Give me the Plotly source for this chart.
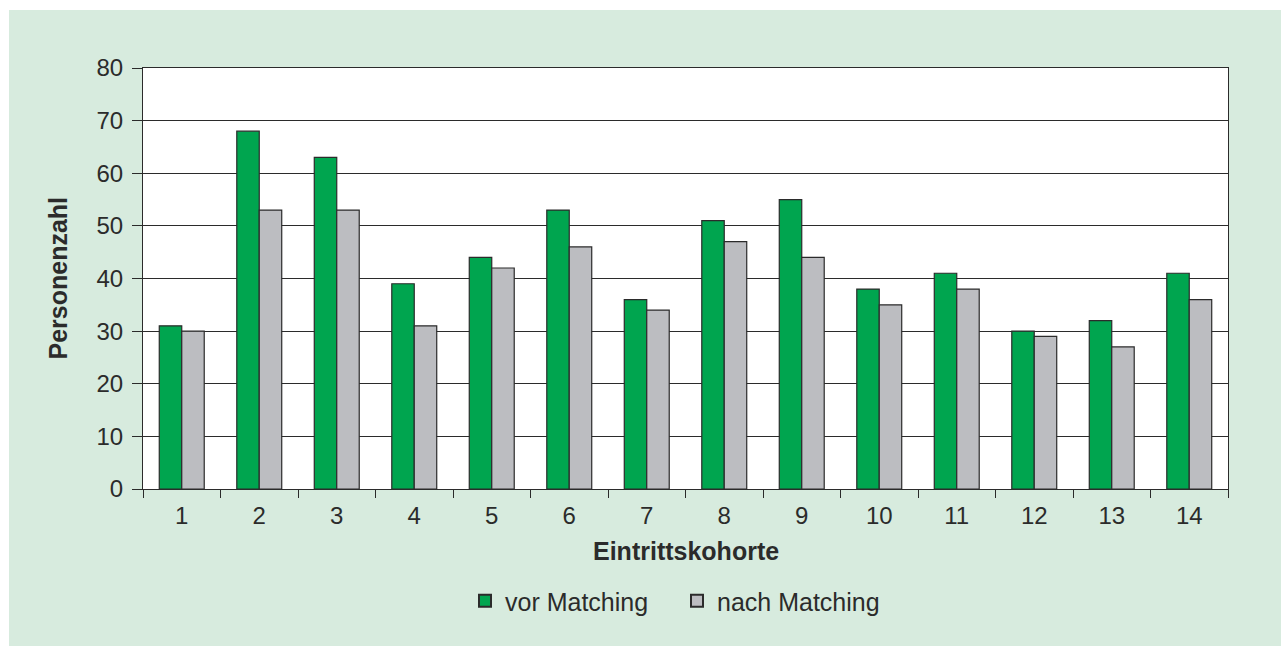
import plotly.graph_objects as go

categories = ["1", "2", "3", "4", "5", "6", "7", "8", "9", "10", "11", "12", "13", "14"]
vor_matching = [31, 68, 63, 39, 44, 53, 36, 51, 55, 38, 41, 30, 32, 41]
nach_matching = [30, 53, 53, 31, 42, 46, 34, 47, 44, 35, 38, 29, 27, 36]
y_ticks = [0, 10, 20, 30, 40, 50, 60, 70, 80]

W, H = 1281, 646
L, R, T, B = 143, 1228, 68, 489  # screen coords of plot area
pw, ph = R - L, B - T
BG = "#d7ebde"

def px(x):
    return (x - L) / pw

def py(y):
    return (B - y) / ph

font = "Liberation Sans, Arial, Helvetica, sans-serif"
txt = "#2b2b2b"

fig = go.Figure()
fig.add_trace(go.Bar(x=categories, y=vor_matching, name="vor Matching", legend="legend",
                     marker=dict(color="#00a54f", line=dict(color="#2b2b2b", width=1.2))))
fig.add_trace(go.Bar(x=categories, y=nach_matching, name="nach Matching", legend="legend2",
                     marker=dict(color="#bcbdc1", line=dict(color="#2b2b2b", width=1.2))))

leg_common = dict(orientation="h", yanchor="middle", y=py(601), xanchor="left",
                  font=dict(size=25, color=txt), bgcolor="rgba(0,0,0,0)",
                  itemsizing="constant", itemwidth=30, borderwidth=0)

fig.update_layout(
    width=W, height=H,
    margin=dict(l=L, r=W - R, t=T, b=H - B, pad=0),
    paper_bgcolor=BG,
    plot_bgcolor="white",
    barmode="group", bargap=0.42, bargroupgap=0,
    font=dict(family=font, size=24, color=txt),
    showlegend=True,
    legend=dict(x=px(465), **leg_common),
    legend2=dict(x=px(677), **leg_common),
    xaxis=dict(type="category", tickson="boundaries", ticks="outside", ticklen=8,
               ticklabelstandoff=5,
               tickcolor="#2b2b2b", showline=True, linecolor="#2b2b2b", linewidth=1.2,
               mirror=True, showgrid=False, tickfont=dict(size=24, color=txt)),
    yaxis=dict(range=[0, 80], tickvals=y_ticks, ticks="outside", ticklen=10,
               ticklabelstandoff=4,
               tickcolor="#2b2b2b", showline=True, linecolor="#2b2b2b", linewidth=1.2,
               mirror=True, showgrid=True, gridcolor="#2b2b2b", gridwidth=1,
               zeroline=False, tickfont=dict(size=24, color=txt)),
    shapes=[
        dict(type="rect", xref="paper", yref="paper", x0=px(-5), x1=px(9), y0=py(H + 5), y1=py(-5),
             fillcolor="white", line=dict(width=0), layer="below"),
        dict(type="rect", xref="paper", yref="paper", x0=px(-5), x1=px(W + 5), y0=py(10), y1=py(-5),
             fillcolor="white", line=dict(width=0), layer="below"),
    ],
    annotations=[
        dict(text="<b>Eintrittskohorte</b>", xref="paper", yref="paper", x=0.5, y=py(551),
             xanchor="center", yanchor="middle", showarrow=False, font=dict(size=25, color=txt)),
        dict(text="<b>Personenzahl</b>", xref="paper", yref="paper", x=px(57), y=0.5,
             xanchor="center", yanchor="middle", textangle=-90, showarrow=False,
             font=dict(size=25, color=txt)),
    ],
)

fig.write_html(
    "out.html",
    config={"displayModeBar": False},
    post_script=(
        "document.body.style.margin='0px';"
        "document.body.style.background='" + BG + "';"
        "document.documentElement.style.background='" + BG + "';"
    ),
)
